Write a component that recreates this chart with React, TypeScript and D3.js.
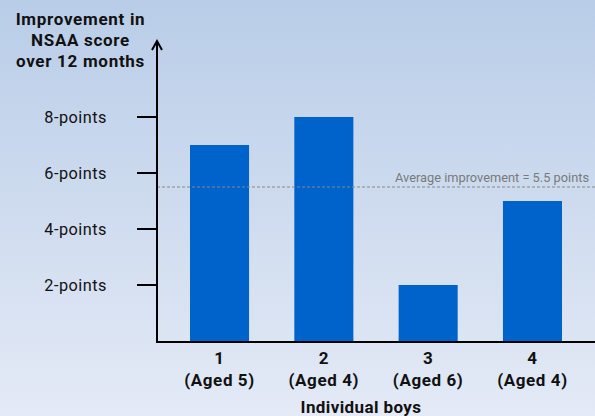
import React from "react";
import * as d3 from "d3";

const categories = ["1", "2", "3", "4"];
const ages = ["(Aged 5)", "(Aged 4)", "(Aged 6)", "(Aged 4)"];
const values = [7, 8, 2, 5];
const tickValues = [2, 4, 6, 8];
const tickLabels = ["2-points", "4-points", "6-points", "8-points"];
const averageValue = 5.5;
const averageLabel = "Average improvement = 5.5 points";
const titleLines = ["Improvement in", "NSAA score", "over 12 months"];
const xTitle = "Individual boys";

const W = 595;
const H = 416;

export default function App() {
  const y = d3.scaleLinear().domain([0, 8]).range([341, 117]);
  const x = d3.scaleBand<string>().domain(categories).range([190, 562]).paddingInner(0.434).paddingOuter(0);
  const font = "Roboto, 'Liberation Sans', Arial, sans-serif";
  const axisX = 157;
  const axisY = 342;
  return (
    <svg width={W} height={H} style={{ position: "absolute", left: 0, top: 0, display: "block" }} fontFamily={font}>
      <defs>
        <linearGradient id="bg" x1="0" y1="0" x2="0" y2="1">
          <stop offset="0" stopColor="#b9cde8" />
          <stop offset="1" stopColor="#e4eaf6" />
        </linearGradient>
      </defs>
      <rect x={0} y={0} width={W} height={H} fill="url(#bg)" />
      {titleLines.map((t, i) => (
        <text key={t} x={80.5} y={25 + i * 20.8} textAnchor="middle" fontSize={17} fontWeight="bold" letterSpacing={0.7} fill="#111">
          {t}
        </text>
      ))}
      {values.map((v, i) => (
        <rect key={i} x={x(categories[i])} y={y(v)} width={x.bandwidth()} height={y(0) - y(v)} fill="#0063cc" />
      ))}
      <line x1={axisX} x2={W} y1={y(averageValue)} y2={y(averageValue)} stroke="#888" strokeWidth={1} strokeDasharray="3,2" />
      <text x={589} y={y(averageValue) - 5} textAnchor="end" fontSize={12.8} fill="#7a7a7a">
        {averageLabel}
      </text>
      <line x1={axisX} x2={axisX} y1={42} y2={axisY + 1} stroke="#000" strokeWidth={2} />
      <path d={`M${axisX - 5},${50} L${axisX},${41} L${axisX + 5},${50}`} fill="none" stroke="#000" strokeWidth={2} />
      <line x1={axisX - 1} x2={W} y1={axisY} y2={axisY} stroke="#000" strokeWidth={2} />
      {tickValues.map((t, i) => (
        <g key={t}>
          <line x1={137} x2={axisX} y1={y(t)} y2={y(t)} stroke="#000" strokeWidth={2} />
          <text x={107} y={y(t) + 5.5} textAnchor="end" fontSize={16.3} letterSpacing={0.5} fill="#111">
            {tickLabels[i]}
          </text>
        </g>
      ))}
      {categories.map((c, i) => {
        const cx = (x(c) as number) + x.bandwidth() / 2;
        return (
          <g key={c}>
            <text x={cx} y={364} textAnchor="middle" fontSize={17} fontWeight="bold" letterSpacing={0.6} fill="#111">
              {c}
            </text>
            <text x={cx} y={386} textAnchor="middle" fontSize={17} fontWeight="bold" letterSpacing={0.6} fill="#111">
              {ages[i]}
            </text>
          </g>
        );
      })}
      <text x={361} y={413} textAnchor="middle" fontSize={17} fontWeight="bold" letterSpacing={0.4} fill="#111">
        {xTitle}
      </text>
    </svg>
  );
}
